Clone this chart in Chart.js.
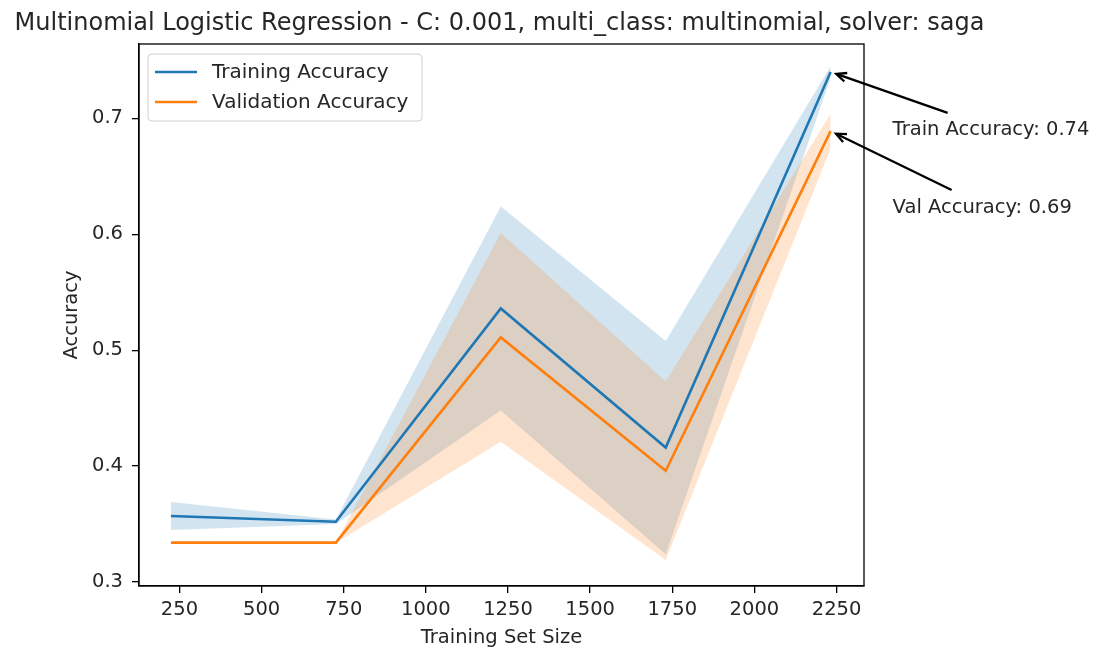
<!DOCTYPE html>
<html>
<head>
<meta charset="utf-8">
<script src="https://cdn.jsdelivr.net/npm/chart.js@4.4.1/dist/chart.umd.min.js"></script>
<style>
  html, body { margin: 0; padding: 0; background: #fff; }
  #wrap { width: 1104px; height: 650px; }
</style>
</head>
<body>
<div id="wrap"><canvas id="c" width="1104" height="650"></canvas></div>
<script>
// ---- data ----
const titleText = 'Multinomial Logistic Regression - C: 0.001, multi_class: multinomial, solver: saga';
const xLabel = 'Training Set Size';
const yLabel = 'Accuracy';
const trainSizes = [224, 726, 1228, 1730, 2232];
const trainMean = [0.357, 0.352, 0.536, 0.416, 0.740];
const trainStd  = [0.012, 0.002, 0.088, 0.092, 0.005];
const valMean   = [0.334, 0.334, 0.511, 0.396, 0.689];
const valStd    = [0.000, 0.000, 0.090, 0.077, 0.015];
const xTicks = [250, 500, 750, 1000, 1250, 1500, 1750, 2000, 2250];
const yTicks = [0.3, 0.4, 0.5, 0.6, 0.7];
const seriesLabels = ['Training Accuracy', 'Validation Accuracy'];
const annotationLabels = ['Train Accuracy: 0.74', 'Val Accuracy: 0.69'];

const BLUE = '#1f77b4', ORANGE = '#ff7f0e';
const FONT = '"DejaVu Sans", sans-serif';
const TEXT = '#262626';

const pts = (arr) => arr.map((v, i) => ({ x: trainSizes[i], y: v }));
const upper = (m, s) => m.map((v, i) => v + s[i]);
const lower = (m, s) => m.map((v, i) => v - s[i]);

const data = {
  datasets: [
    { label: 'trainUpper', data: pts(upper(trainMean, trainStd)), fill: '+1', backgroundColor: 'rgba(31,119,180,0.2)', borderWidth: 0, pointRadius: 0, order: 2 },
    { label: 'trainLower', data: pts(lower(trainMean, trainStd)), fill: false, borderWidth: 0, pointRadius: 0, order: 2 },
    { label: 'valUpper', data: pts(upper(valMean, valStd)), fill: '+1', backgroundColor: 'rgba(255,127,14,0.2)', borderWidth: 0, pointRadius: 0, order: 1 },
    { label: 'valLower', data: pts(lower(valMean, valStd)), fill: false, borderWidth: 0, pointRadius: 0, order: 1 },
    { label: seriesLabels[0], data: pts(trainMean), borderColor: BLUE, borderWidth: 2.6, pointRadius: 0, fill: false, order: 0 },
    { label: seriesLabels[1], data: pts(valMean), borderColor: ORANGE, borderWidth: 2.6, pointRadius: 0, fill: false, order: 0 }
  ]
};

const decor = {
  id: 'decor',
  afterDraw(chart) {
    const ctx = chart.ctx, a = chart.chartArea;
    const xs = chart.scales.x, ys = chart.scales.y;
    ctx.save();
    // frame top/right
    ctx.strokeStyle = '#000'; ctx.lineWidth = 1.3;
    ctx.strokeRect(a.left, a.top, a.right - a.left, a.bottom - a.top);
    // title
    ctx.fillStyle = TEXT;
    ctx.font = '24px ' + FONT;
    ctx.textAlign = 'center'; ctx.textBaseline = 'alphabetic';
    ctx.fillText(titleText, (a.left + a.right) / 2 - 2, 30);
    // axis titles
    ctx.font = '19.5px ' + FONT;
    ctx.fillText(xLabel, (a.left + a.right) / 2, 643);
    ctx.save();
    ctx.translate(77, (a.top + a.bottom) / 2);
    ctx.rotate(-Math.PI / 2);
    ctx.fillText(yLabel, 0, 0);
    ctx.restore();
    // legend
    const lx = 148, ly = 54, lw = 274, lh = 67, r = 4;
    ctx.beginPath();
    ctx.moveTo(lx + r, ly); ctx.lineTo(lx + lw - r, ly); ctx.quadraticCurveTo(lx + lw, ly, lx + lw, ly + r);
    ctx.lineTo(lx + lw, ly + lh - r); ctx.quadraticCurveTo(lx + lw, ly + lh, lx + lw - r, ly + lh);
    ctx.lineTo(lx + r, ly + lh); ctx.quadraticCurveTo(lx, ly + lh, lx, ly + lh - r);
    ctx.lineTo(lx, ly + r); ctx.quadraticCurveTo(lx, ly, lx + r, ly);
    ctx.closePath();
    ctx.fillStyle = 'rgba(255,255,255,0.8)'; ctx.fill();
    ctx.strokeStyle = '#d0d0d0'; ctx.lineWidth = 1; ctx.stroke();
    const cols = [BLUE, ORANGE];
    ctx.font = '20px ' + FONT;
    ctx.textAlign = 'left'; ctx.textBaseline = 'middle';
    for (let i = 0; i < 2; i++) {
      const yy = 72 + i * 30;
      ctx.strokeStyle = cols[i]; ctx.lineWidth = 2.6;
      ctx.beginPath(); ctx.moveTo(155, yy); ctx.lineTo(197, yy); ctx.stroke();
      ctx.fillStyle = TEXT;
      ctx.fillText(seriesLabels[i], 212, yy + 1);
    }
    // annotations
    const last = trainSizes.length - 1;
    const ann = [
      { px: xs.getPixelForValue(trainSizes[last]), py: ys.getPixelForValue(trainMean[last]), tx: 117, ty: 41, lx: 62, ly: 63, text: annotationLabels[0] },
      { px: xs.getPixelForValue(trainSizes[last]), py: ys.getPixelForValue(valMean[last]), tx: 121, ty: 59, lx: 62, ly: 82, text: annotationLabels[1] }
    ];
    ctx.strokeStyle = '#000'; ctx.fillStyle = TEXT; ctx.lineWidth = 2.3;
    ctx.textBaseline = 'alphabetic';
    ctx.font = '19.5px ' + FONT;
    for (const an of ann) {
      const dx = an.tx, dy = an.ty, L = Math.hypot(dx, dy);
      const ux = dx / L, uy = dy / L;
      const hx = an.px + ux * 6, hy = an.py + uy * 6;
      const tx = an.px + dx, ty = an.py + dy;
      ctx.beginPath(); ctx.moveTo(tx, ty); ctx.lineTo(hx, hy); ctx.stroke();
      const ang = Math.atan2(uy, ux), hl = 11, hw = 0.42;
      ctx.beginPath();
      ctx.moveTo(hx + Math.cos(ang + hw) * hl, hy + Math.sin(ang + hw) * hl);
      ctx.lineTo(hx, hy);
      ctx.lineTo(hx + Math.cos(ang - hw) * hl, hy + Math.sin(ang - hw) * hl);
      ctx.stroke();
      ctx.fillText(an.text, an.px + an.lx, an.py + an.ly);
    }
    ctx.restore();
  }
};

new Chart(document.getElementById('c'), {
  type: 'line',
  data,
  options: {
    responsive: false,
    animation: false,
    layout: { padding: { top: 44, right: 240, left: 0, bottom: 0 } },
    plugins: { legend: { display: false }, tooltip: { enabled: false } },
    elements: { line: { tension: 0 } },
    scales: {
      x: {
        type: 'linear', min: 126.8, max: 2333.6,
        afterBuildTicks: (s) => { s.ticks = xTicks.map(v => ({ value: v })); },
        afterFit: (s) => { s.height = 64; },
        grid: { drawOnChartArea: false, drawTicks: true, tickLength: 7, color: '#000', lineWidth: 1.3 },
        border: { display: true, color: '#000', width: 1.3 },
        ticks: { color: TEXT, font: { family: FONT, size: 19.5 }, padding: 5, maxRotation: 0, autoSkip: false, callback: (v) => String(v) }
      },
      y: {
        type: 'linear', min: 0.2966, max: 0.7641,
        afterBuildTicks: (s) => { s.ticks = yTicks.map(v => ({ value: v })); },
        afterFit: (s) => { s.width = 139; },
        grid: { drawOnChartArea: false, drawTicks: true, tickLength: 7, color: '#000', lineWidth: 1.3 },
        border: { display: true, color: '#000', width: 1.3 },
        ticks: { color: TEXT, font: { family: FONT, size: 19.5 }, padding: 9, autoSkip: false, callback: (v) => v.toFixed(1) }
      }
    }
  },
  plugins: [decor]
});
</script>
</body>
</html>
